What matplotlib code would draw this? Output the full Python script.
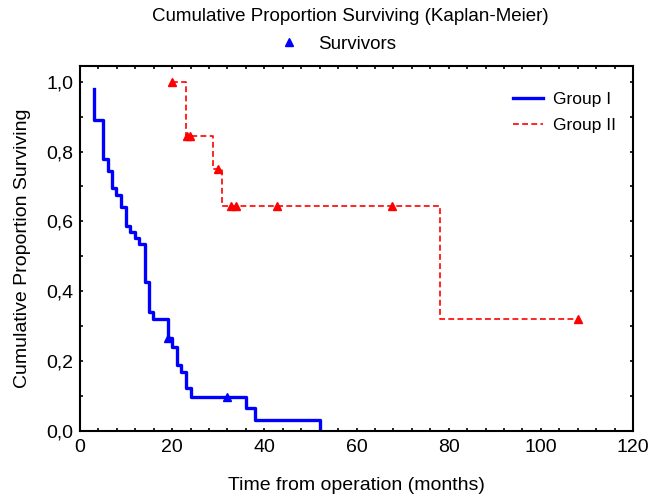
import matplotlib
matplotlib.use('Agg')
import matplotlib.pyplot as plt
from matplotlib.lines import Line2D
from matplotlib.ticker import MultipleLocator, FixedLocator, FixedFormatter

plt.rcParams['font.family'] = ['Liberation Sans', 'DejaVu Sans']

# Group I (step curve, values after each event)
g1_time = [3.0, 3.0, 4.9, 6.0, 6.9, 7.9, 8.9, 10.0, 10.9, 11.9, 12.9, 14.0,
           15.0, 15.9, 19.1, 19.9, 21.0, 22.0, 23.0, 24.0, 36.0, 38.0, 52.0]
g1_surv = [0.98, 0.89, 0.78, 0.745, 0.695, 0.675, 0.64, 0.588, 0.569, 0.552,
           0.534, 0.428, 0.342, 0.32, 0.266, 0.241, 0.19, 0.168, 0.122, 0.098,
           0.065, 0.031, 0.0]
g1_cens_time = [19.1, 31.8]
g1_cens_surv = [0.266, 0.098]

# Group II
g2_time = [20.0, 23.0, 28.8, 30.8, 78.2, 108.0]
g2_surv = [1.0, 0.844, 0.75, 0.643, 0.321, 0.321]
g2_cens_time = [20.0, 23.2, 23.8, 29.9, 32.8, 33.9, 42.7, 67.8, 108.0]
g2_cens_surv = [1.0, 0.844, 0.844, 0.75, 0.643, 0.643, 0.643, 0.643, 0.321]

x_ticks = [0, 20, 40, 60, 80, 100, 120]
y_ticks = [0.0, 0.2, 0.4, 0.6, 0.8, 1.0]
y_labels = ['0,0', '0,2', '0,4', '0,6', '0,8', '1,0']

fig = plt.figure(figsize=(6.52, 4.96), dpi=100)
ax = fig.add_axes([0.1227, 0.131, 0.8483, 0.736])

ax.plot(g1_time, g1_surv, drawstyle='steps-post', color='#0000ff', lw=2.4,
        label='Group I')
ax.plot(g2_time, g2_surv, drawstyle='steps-post', color='#ff0000', lw=1.2,
        dashes=(3.5, 2), label='Group II')
ax.plot(g1_cens_time, g1_cens_surv, ls='none', marker='^', color='#0000ff',
        markersize=6)
ax.plot(g2_cens_time, g2_cens_surv, ls='none', marker='^', color='#ff0000',
        markersize=6)

ax.set_xlim(0, 120)
ax.set_ylim(0, 1.045)
ax.xaxis.set_major_locator(FixedLocator(x_ticks))
ax.xaxis.set_minor_locator(MultipleLocator(4))
ax.yaxis.set_major_locator(FixedLocator(y_ticks))
ax.yaxis.set_major_formatter(FixedFormatter(y_labels))
ax.yaxis.set_minor_locator(MultipleLocator(0.1))
ax.tick_params(which='both', direction='in', top=True, right=True,
               length=2.5, width=1.2, labelsize=14)
ax.tick_params(axis='x', pad=6)
ax.tick_params(axis='y', pad=5)
for s in ax.spines.values():
    s.set_linewidth(1.5)

ax.set_xlabel('Time from operation (months)', fontsize=14, labelpad=15)
ax.set_ylabel('Cumulative Proportion Surviving', fontsize=14, labelpad=11)

ax.legend(loc='upper right', frameon=False, fontsize=12.5, handlelength=1.7,
          handletextpad=0.6, labelspacing=0.65, bbox_to_anchor=(0.998, 0.973))

fig.text(0.537, 0.966, 'Cumulative Proportion Surviving (Kaplan-Meier)',
         ha='center', va='center', fontsize=13.5)
surv_handle = Line2D([], [], ls='none', marker='^', color='#0000ff',
                     markersize=6)
fig.legend(handles=[surv_handle], labels=['Survivors'], loc='center',
           bbox_to_anchor=(0.514, 0.911), frameon=False, fontsize=13.5,
           handlelength=1.5)

fig.savefig('out.png', dpi=100)
